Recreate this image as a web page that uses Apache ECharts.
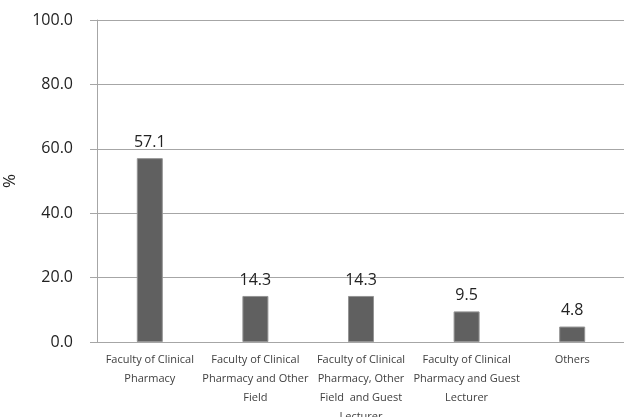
<!DOCTYPE html>
<html>
<head>
<meta charset="utf-8">
<script src="https://cdn.jsdelivr.net/npm/echarts@6/dist/echarts.min.js"></script>
<style>
  html, body { margin: 0; padding: 0; background: #fff; }
  #chart { width: 624px; height: 417px; }
</style>
</head>
<body>
<div id="chart"></div>
<script>
// Lecturer categories (x axis)
const categories = [
  'Faculty of Clinical\nPharmacy',
  'Faculty of Clinical\nPharmacy and Other\nField',
  'Faculty of Clinical\nPharmacy, Other\nField  and Guest\nLecturer',
  'Faculty of Clinical\nPharmacy and Guest\nLecturer',
  'Others'
];
// Share of respondents, %
const percentValues = [57.1, 14.3, 14.3, 9.5, 4.8];
// Y axis range
const yMin = 0, yMax = 100, yStep = 20;

const chart = echarts.init(document.getElementById('chart'));
chart.setOption({
  animation: false,
  grid: { left: 97, right: -1, top: 20, bottom: 75, outerBoundsMode: 'none' },
  xAxis: {
    type: 'category',
    data: categories,
    axisLine: { lineStyle: { color: '#a6a6a6', width: 1 } },
    axisTick: { show: false },
    axisLabel: {
      interval: 0,
      color: '#404040',
      fontFamily: 'Open Sans',
      fontSize: 11,
      lineHeight: 19,
      margin: 8
    }
  },
  yAxis: {
    type: 'value',
    min: yMin, max: yMax, interval: yStep,
    name: '%',
    nameLocation: 'middle',
    nameGap: 78,
    nameRotate: 90,
    nameTextStyle: { color: '#222', fontSize: 17, fontFamily: 'Open Sans' },
    axisLine: { show: true, lineStyle: { color: '#a6a6a6', width: 1 } },
    axisTick: { show: true, length: 7, lineStyle: { color: '#a6a6a6' } },
    splitLine: { show: true, lineStyle: { color: '#a6a6a6', width: 1 } },
    axisLabel: {
      color: '#222',
      fontSize: 16,
      fontFamily: 'Open Sans',
      margin: 24,
      formatter: v => v.toFixed(1)
    }
  },
  series: [{
    type: 'bar',
    data: percentValues,
    barWidth: 26,
    itemStyle: { color: '#606060', borderColor: '#949494', borderWidth: 1 },
    label: {
      show: true,
      position: 'top',
      distance: 8,
      color: '#222',
      fontSize: 16,
      fontFamily: 'Open Sans',
      formatter: p => p.value.toFixed(1)
    }
  }]
});
</script>
</body>
</html>
